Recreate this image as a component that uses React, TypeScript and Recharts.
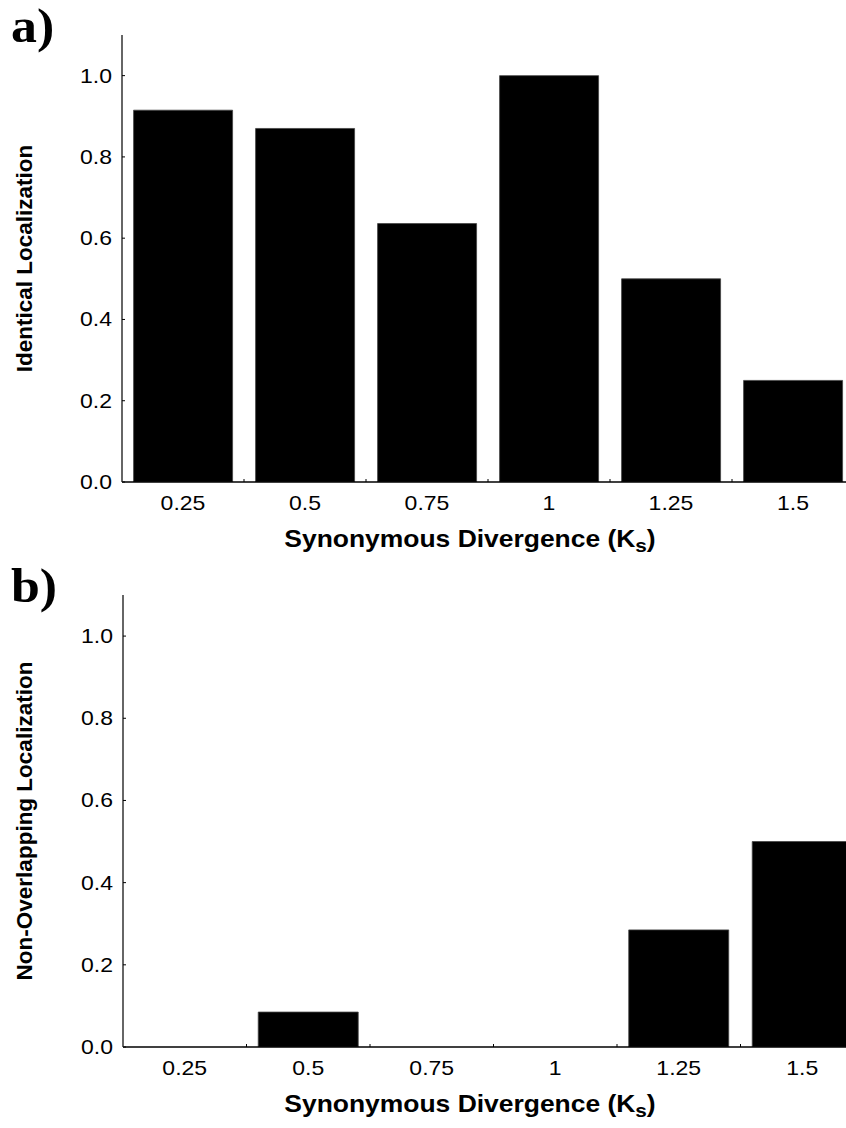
import React from 'react';
import { BarChart, Bar, XAxis, YAxis } from 'recharts';

// categories (Ks bins)
const categories = ['0.25', '0.5', '0.75', '1', '1.25', '1.5'];
const identicalValues = [0.915, 0.87, 0.636, 1.0, 0.5, 0.25];
const nonOverlapValues = [0, 0.085, 0, 0, 0.285, 0.5];
const yTicks = [0, 0.2, 0.4, 0.6, 0.8, 1.0];

const FONT = '"Liberation Sans", Arial, sans-serif';
const STRETCH = 1.15; // the original text is a bit wide

const buildRows = (values: number[]) =>
  categories.map((c, i) => ({ ks: c, value: values[i] }));

interface PanelProps {
  letter: string;
  top: number;
  width: number;
  height: number;
  plotLeft: number;
  values: number[];
  yTitle: string;
}

const Panel: React.FC<PanelProps> = ({ letter, top, width, height, plotLeft, values, yTitle }) => {
  const band = (width - plotLeft) / categories.length;
  const data = buildRows(values);

  // bottom ticks: label at band centre, small inward tick at band boundary
  const BottomTick = ({ x, y, payload }: any) => (
    <g>
      <line x1={x + band / 2} x2={x + band / 2} y1={y} y2={y - 3} stroke="#000" strokeWidth={1} />
      <text
        transform={`translate(${x}, ${y + 28}) scale(${STRETCH}, 1)`}
        textAnchor="middle"
        fontFamily={FONT}
        fontSize={20}
        fill="#000"
      >
        {payload.value}
      </text>
    </g>
  );

  const TopTick = ({ x, y }: any) => (
    <line x1={x + band / 2} x2={x + band / 2} y1={y} y2={y + 3} stroke="#000" strokeWidth={1} />
  );

  const LeftTick = ({ x, y, payload }: any) => (
    <g>
      <line x1={x} x2={x + 3} y1={y} y2={y} stroke="#000" strokeWidth={1} />
      <text
        transform={`translate(${x - 10}, ${y + 7}) scale(${STRETCH}, 1)`}
        textAnchor="end"
        fontFamily={FONT}
        fontSize={20}
        fill="#000"
      >
        {Number(payload.value).toFixed(1)}
      </text>
    </g>
  );

  const XTitle = ({ viewBox }: any) => {
    const cy = viewBox.y + 65;
    return (
      <text
        transform={`translate(470, ${cy}) scale(${STRETCH}, 1)`}
        textAnchor="middle"
        fontFamily={FONT}
        fontSize={23}
        fontWeight="bold"
        fill="#000"
      >
        Synonymous Divergence (K
        <tspan fontSize={18} dy={5}>s</tspan>
        <tspan dy={-5}>)</tspan>
      </text>
    );
  };

  const YTitle = ({ viewBox }: any) => {
    const cy = viewBox.y + viewBox.height / 2;
    const cx = 32;
    return (
      <text
        x={cx}
        y={cy}
        textAnchor="middle"
        transform={`rotate(-90, ${cx}, ${cy})`}
        fontFamily={FONT}
        fontSize={22.5}
        fontWeight="bold"
        fill="#000"
      >
        {yTitle}
      </text>
    );
  };

  return (
    <div style={{ position: 'absolute', left: 0, top, width, height }}>
      <div
        style={{
          position: 'absolute',
          left: 11,
          top: 2,
          fontFamily: '"Liberation Serif", "Times New Roman", serif',
          fontWeight: 'bold',
          fontSize: 48,
          lineHeight: '48px',
          color: '#000',
          transform: 'scaleX(1.08)',
          transformOrigin: 'left top',
        }}
      >
        {letter}
      </div>
      <BarChart
        width={width}
        height={height}
        data={data}
        margin={{ top: 35, right: 0, left: 0, bottom: 10 }}
        barCategoryGap="9.5%"
      >
        <XAxis
          dataKey="ks"
          xAxisId="bottom"
          height={70}
          tickSize={0}
          tickMargin={0}
          tickLine={false}
          axisLine={{ stroke: '#000', strokeWidth: 1.5 }}
          tick={<BottomTick />}
          interval={0}
          label={<XTitle />}
        />
        <XAxis
          dataKey="ks"
          xAxisId="top"
          orientation="top"
          height={0}
          tickSize={0}
          tickMargin={0}
          tickLine={false}
          axisLine={{ stroke: '#555', strokeWidth: 1.5 }}
          tick={<TopTick />}
          interval={0}
        />
        <YAxis
          width={plotLeft}
          domain={[0, 1.1]}
          ticks={yTicks}
          allowDataOverflow
          tickSize={0}
          tickMargin={0}
          tickLine={false}
          axisLine={{ stroke: '#333', strokeWidth: 1.5 }}
          tick={<LeftTick />}
          interval={0}
          label={<YTitle />}
        />
        <Bar dataKey="value" xAxisId="bottom" fill="#000" stroke="#444" strokeWidth={0.8} isAnimationActive={false} />
        <Bar dataKey="value" xAxisId="top" fill="transparent" isAnimationActive={false} legendType="none" hide />
      </BarChart>
    </div>
  );
};

export default function App() {
  return (
    <div
      style={{
        position: 'absolute',
        left: 0,
        top: 0,
        width: 846,
        height: 1128,
        overflow: 'hidden',
        background: '#fff',
      }}
    >
      <Panel
        letter="a)"
        top={0}
        width={854}
        height={562}
        plotLeft={122}
        values={identicalValues}
        yTitle="Identical Localization"
      />
      <Panel
        letter="b)"
        top={560}
        width={864}
        height={567}
        plotLeft={123}
        values={nonOverlapValues}
        yTitle="Non-Overlapping Localization"
      />
    </div>
  );
}
